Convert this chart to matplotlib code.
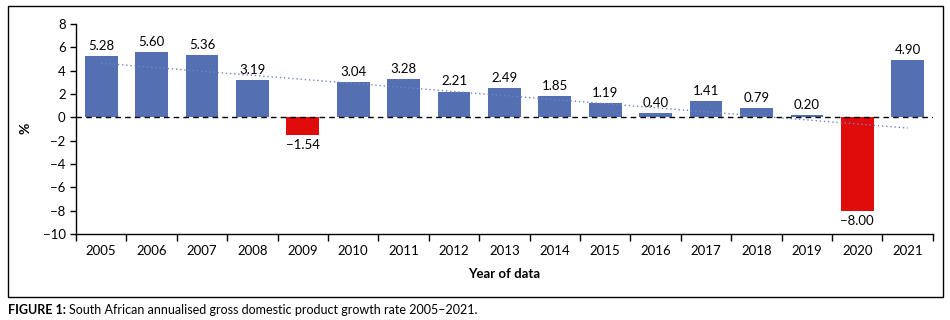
import matplotlib
matplotlib.use('Agg')
from matplotlib import pyplot as plt
from matplotlib.patches import Rectangle
import numpy as np

plt.rcParams['font.family'] = ['Lato', 'DejaVu Sans']

years = ['2005', '2006', '2007', '2008', '2009', '2010', '2011', '2012', '2013',
         '2014', '2015', '2016', '2017', '2018', '2019', '2020', '2021']
growth = [5.28, 5.60, 5.36, 3.19, -1.54, 3.04, 3.28, 2.21, 2.49,
          1.85, 1.19, 0.40, 1.41, 0.79, 0.20, -8.00, 4.90]
yticks = [8, 6, 4, 2, 0, -2, -4, -6, -8, -10]

BLUE = '#5470B3'
RED = '#E00B0B'

fig = plt.figure(figsize=(9.5, 3.2), dpi=100)
ax = fig.add_axes([0.08, 0.269, 0.902, 0.656])

x = np.arange(len(years))
vals = np.array(growth)
colors = [RED if v < 0 else BLUE for v in vals]
ax.bar(x, vals, width=0.65, color=colors, zorder=2)

# value labels
for xi, v in zip(x, vals):
    lab = '%.2f' % v
    lab = lab.replace('-', '\u2212')
    if v >= 0:
        ax.text(xi, v + 0.35, lab, ha='center', va='bottom', fontsize=9.5)
    else:
        ax.text(xi, v - 0.35, lab, ha='center', va='top', fontsize=9.5)

# linear trend line (fitted over all years)
slope, icept = np.polyfit(x, vals, 1)
ax.plot(x, slope * x + icept, linestyle=(0, (1, 2)), color='#6f86c4', lw=1.0, zorder=3)

ax.axhline(0, color='black', lw=1.0, linestyle=(0, (4, 3)), zorder=4)

ax.set_xlim(-0.5, len(years) - 0.5)
ax.set_ylim(-10, 8)
ax.set_yticks(yticks)
ax.set_yticklabels([str(t).replace('-', '\u2212') for t in yticks], fontsize=9.5)
ax.set_xticks(x)
ax.set_xticklabels(years, fontsize=9.5)
ax.tick_params(axis='x', which='major', length=0, pad=8)
ax.set_xticks(np.arange(-0.5, len(years), 1), minor=True)
ax.tick_params(axis='x', which='minor', length=5, direction='out', width=1)
ax.tick_params(axis='y', length=4, direction='out', width=1)

for s in ['top', 'right']:
    ax.spines[s].set_visible(False)
ax.spines['left'].set_linewidth(1)
ax.spines['bottom'].set_linewidth(1)

ax.set_xlabel('Year of data', fontsize=9.5, fontweight='bold', labelpad=8)
fig.text(25 / 950, 1 - 128 / 320, '%', fontsize=10, fontweight='bold',
         rotation=90, ha='center', va='center')

# outer frame
fig.patches.append(Rectangle((8 / 950, 1 - 297 / 320), 935 / 950, 291 / 320,
                             transform=fig.transFigure, fill=False,
                             edgecolor='black', lw=1.0))

# caption
t1 = fig.text(8 / 950, 1 - 310 / 320, 'FIGURE 1:', fontsize=9, fontweight='bold',
              va='center', ha='left')
fig.canvas.draw()
bb = t1.get_window_extent()
fig.text(bb.x1 / 950 + 3 / 950, 1 - 310 / 320,
         'South African annualised gross domestic product growth rate 2005\u20132021.',
         fontsize=9, va='center', ha='left')

fig.savefig('out.png', dpi=100)
